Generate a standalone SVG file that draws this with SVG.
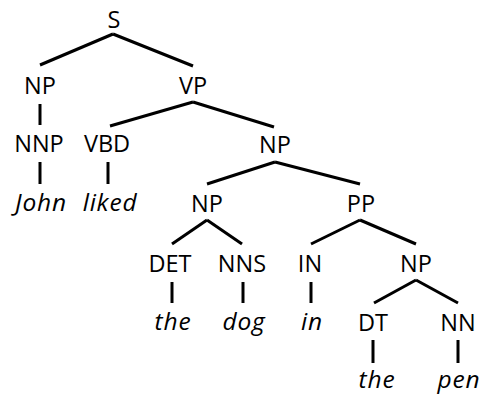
<svg xmlns="http://www.w3.org/2000/svg" width="482" height="398" viewBox="0 0 482 398">
<style>
text{font-family:"Open Sans","Noto Sans",sans-serif;font-size:23.5px;fill:#000;text-anchor:middle}
.w{font-style:italic;font-size:24.5px;letter-spacing:0.8px}
#edges line{stroke:#000;stroke-width:3;stroke-linecap:butt}
</style>
<rect width="482" height="398" fill="#fff"/>
<g id="edges">
<line x1="113" y1="34" x2="40" y2="65"/>
<line x1="113" y1="34" x2="193" y2="66"/>
<line x1="40" y1="104" x2="40" y2="125"/>
<line x1="193" y1="102" x2="110" y2="126"/>
<line x1="193" y1="102" x2="274" y2="127"/>
<line x1="40" y1="162" x2="40" y2="184"/>
<line x1="108" y1="162" x2="108" y2="184"/>
<line x1="275" y1="162" x2="207" y2="184"/>
<line x1="275" y1="162" x2="360" y2="184"/>
<line x1="207" y1="220" x2="172" y2="244"/>
<line x1="207" y1="220" x2="242" y2="244"/>
<line x1="360" y1="220" x2="311" y2="244"/>
<line x1="360" y1="220" x2="416" y2="244"/>
<line x1="172" y1="282" x2="172" y2="303"/>
<line x1="243" y1="282" x2="243" y2="303"/>
<line x1="311" y1="282" x2="311" y2="303"/>
<line x1="416" y1="280" x2="374" y2="303"/>
<line x1="416" y1="280" x2="458" y2="303"/>
<line x1="373" y1="340" x2="373" y2="363"/>
<line x1="458" y1="340" x2="458" y2="363"/>
</g>
<g id="n_S"><text x="114" y="28">S</text></g>
<g id="n_NP1"><text x="40" y="94">NP</text></g>
<g id="n_VP"><text x="193" y="94">VP</text></g>
<g id="n_NNP"><text x="39" y="152">NNP</text></g>
<g id="n_VBD"><text x="107" y="152">VBD</text></g>
<g id="n_NP2"><text x="275" y="153">NP</text></g>
<g id="w_John"><text class="w" x="41" y="211">John</text></g>
<g id="w_liked"><text class="w" x="110" y="211">liked</text></g>
<g id="n_NP3"><text x="207" y="212">NP</text></g>
<g id="n_PP"><text x="361" y="212">PP</text></g>
<g id="n_DET"><text x="170" y="272">DET</text></g>
<g id="n_NNS"><text x="242" y="272">NNS</text></g>
<g id="n_IN"><text x="310" y="272">IN</text></g>
<g id="n_NP4"><text x="416" y="272">NP</text></g>
<g id="w_the1"><text class="w" x="173" y="330">the</text></g>
<g id="w_dog"><text class="w" x="244" y="330">dog</text></g>
<g id="w_in"><text class="w" x="312" y="330">in</text></g>
<g id="n_DT"><text x="373" y="331">DT</text></g>
<g id="n_NN"><text x="458" y="331">NN</text></g>
<g id="w_the2"><text class="w" x="377" y="388">the</text></g>
<g id="w_pen"><text class="w" x="459" y="388">pen</text></g>
</svg>
